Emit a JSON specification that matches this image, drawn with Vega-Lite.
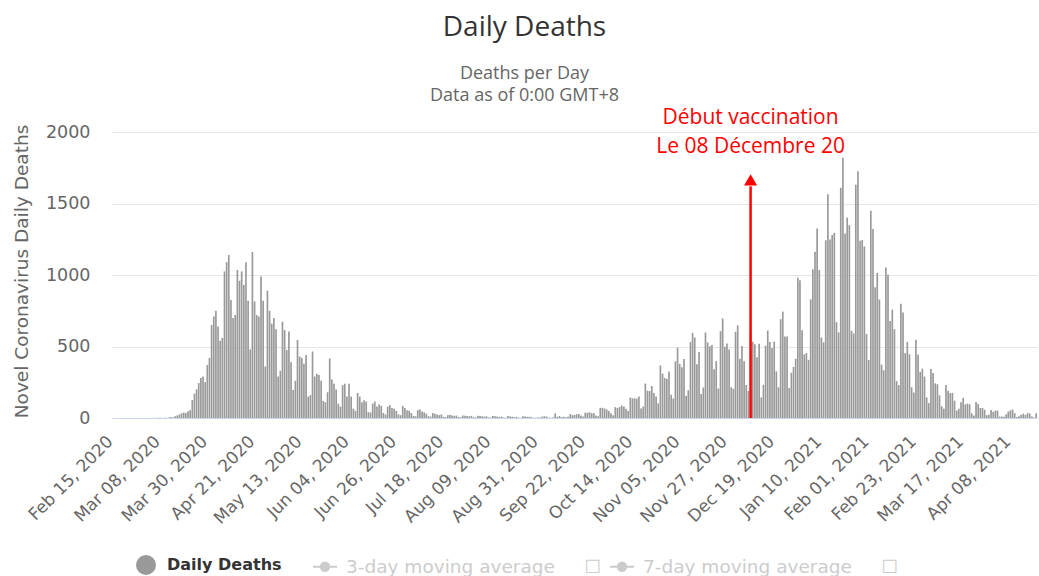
{
  "$schema": "https://vega.github.io/schema/vega-lite/v6.json",
  "width": 925,
  "height": 286,
  "autosize": {"type": "none"},
  "padding": {"left": 112, "top": 132, "right": 2, "bottom": 158},
  "background": "#ffffff",
  "config": {"view": {"stroke": null}, "font": "Open Sans"},
  "title": {
    "text": "Daily Deaths",
    "subtitle": ["Deaths per Day", "Data as of 0:00 GMT+8"],
    "anchor": "middle",
    "dx": -50,
    "offset": 2,
    "font": "Open Sans",
    "fontSize": 28,
    "fontWeight": "normal",
    "color": "#333333",
    "subtitleFont": "Open Sans",
    "subtitleFontSize": 18,
    "subtitleColor": "#666666",
    "subtitleLineHeight": 22,
    "subtitlePadding": 23
  },
  "datasets": {
    "note": [{"d": "2020-12-08", "line1": "Début vaccination", "line2": "Le 08 Décembre 20"}],
    "deaths": [
{"d":"2020-02-15","v":0},{"d":"2020-02-16","v":0},{"d":"2020-02-17","v":0},{"d":"2020-02-18","v":0},{"d":"2020-02-19","v":0},{"d":"2020-02-20","v":0},{"d":"2020-02-21","v":0},{"d":"2020-02-22","v":0},{"d":"2020-02-23","v":0},{"d":"2020-02-24","v":0},{"d":"2020-02-25","v":0},{"d":"2020-02-26","v":0},{"d":"2020-02-27","v":0},{"d":"2020-02-28","v":0},{"d":"2020-02-29","v":0},
{"d":"2020-03-01","v":0},{"d":"2020-03-02","v":0},{"d":"2020-03-03","v":0},{"d":"2020-03-04","v":0},{"d":"2020-03-05","v":1},{"d":"2020-03-06","v":0},{"d":"2020-03-07","v":1},{"d":"2020-03-08","v":1},{"d":"2020-03-09","v":0},{"d":"2020-03-10","v":2},{"d":"2020-03-11","v":1},{"d":"2020-03-12","v":3},{"d":"2020-03-13","v":7},{"d":"2020-03-14","v":4},{"d":"2020-03-15","v":12},{"d":"2020-03-16","v":18},{"d":"2020-03-17","v":25},{"d":"2020-03-18","v":33},{"d":"2020-03-19","v":38},{"d":"2020-03-20","v":35},{"d":"2020-03-21","v":48},{"d":"2020-03-22","v":55},{"d":"2020-03-23","v":126},{"d":"2020-03-24","v":170},{"d":"2020-03-25","v":200},{"d":"2020-03-26","v":245},{"d":"2020-03-27","v":280},{"d":"2020-03-28","v":290},{"d":"2020-03-29","v":250},{"d":"2020-03-30","v":370},{"d":"2020-03-31","v":420},
{"d":"2020-04-01","v":650},{"d":"2020-04-02","v":710},{"d":"2020-04-03","v":750},{"d":"2020-04-04","v":640},{"d":"2020-04-05","v":540},{"d":"2020-04-06","v":560},{"d":"2020-04-07","v":1025},{"d":"2020-04-08","v":1090},{"d":"2020-04-09","v":1140},{"d":"2020-04-10","v":825},{"d":"2020-04-11","v":700},{"d":"2020-04-12","v":720},{"d":"2020-04-13","v":1035},{"d":"2020-04-14","v":960},{"d":"2020-04-15","v":1025},{"d":"2020-04-16","v":930},{"d":"2020-04-17","v":1090},{"d":"2020-04-18","v":820},{"d":"2020-04-19","v":480},{"d":"2020-04-20","v":1160},{"d":"2020-04-21","v":815},{"d":"2020-04-22","v":720},{"d":"2020-04-23","v":710},{"d":"2020-04-24","v":990},{"d":"2020-04-25","v":820},{"d":"2020-04-26","v":360},{"d":"2020-04-27","v":890},{"d":"2020-04-28","v":750},{"d":"2020-04-29","v":660},{"d":"2020-04-30","v":700},
{"d":"2020-05-01","v":620},{"d":"2020-05-02","v":290},{"d":"2020-05-03","v":330},{"d":"2020-05-04","v":673},{"d":"2020-05-05","v":615},{"d":"2020-05-06","v":475},{"d":"2020-05-07","v":605},{"d":"2020-05-08","v":390},{"d":"2020-05-09","v":196},{"d":"2020-05-10","v":260},{"d":"2020-05-11","v":545},{"d":"2020-05-12","v":430},{"d":"2020-05-13","v":420},{"d":"2020-05-14","v":380},{"d":"2020-05-15","v":440},{"d":"2020-05-16","v":150},{"d":"2020-05-17","v":160},{"d":"2020-05-18","v":465},{"d":"2020-05-19","v":290},{"d":"2020-05-20","v":310},{"d":"2020-05-21","v":300},{"d":"2020-05-22","v":260},{"d":"2020-05-23","v":120},{"d":"2020-05-24","v":110},{"d":"2020-05-25","v":180},{"d":"2020-05-26","v":417},{"d":"2020-05-27","v":270},{"d":"2020-05-28","v":240},{"d":"2020-05-29","v":200},{"d":"2020-05-30","v":100},{"d":"2020-05-31","v":80},
{"d":"2020-06-01","v":230},{"d":"2020-06-02","v":240},{"d":"2020-06-03","v":150},{"d":"2020-06-04","v":240},{"d":"2020-06-05","v":150},{"d":"2020-06-06","v":65},{"d":"2020-06-07","v":50},{"d":"2020-06-08","v":175},{"d":"2020-06-09","v":150},{"d":"2020-06-10","v":110},{"d":"2020-06-11","v":125},{"d":"2020-06-12","v":115},{"d":"2020-06-13","v":40},{"d":"2020-06-14","v":38},{"d":"2020-06-15","v":100},{"d":"2020-06-16","v":115},{"d":"2020-06-17","v":80},{"d":"2020-06-18","v":95},{"d":"2020-06-19","v":85},{"d":"2020-06-20","v":35},{"d":"2020-06-21","v":25},{"d":"2020-06-22","v":80},{"d":"2020-06-23","v":90},{"d":"2020-06-24","v":70},{"d":"2020-06-25","v":65},{"d":"2020-06-26","v":50},{"d":"2020-06-27","v":25},{"d":"2020-06-28","v":20},{"d":"2020-06-29","v":85},{"d":"2020-06-30","v":70},
{"d":"2020-07-01","v":55},{"d":"2020-07-02","v":50},{"d":"2020-07-03","v":35},{"d":"2020-07-04","v":15},{"d":"2020-07-05","v":12},{"d":"2020-07-06","v":55},{"d":"2020-07-07","v":60},{"d":"2020-07-08","v":45},{"d":"2020-07-09","v":40},{"d":"2020-07-10","v":30},{"d":"2020-07-11","v":12},{"d":"2020-07-12","v":10},{"d":"2020-07-13","v":35},{"d":"2020-07-14","v":30},{"d":"2020-07-15","v":25},{"d":"2020-07-16","v":20},{"d":"2020-07-17","v":25},{"d":"2020-07-18","v":8},{"d":"2020-07-19","v":6},{"d":"2020-07-20","v":20},{"d":"2020-07-21","v":22},{"d":"2020-07-22","v":18},{"d":"2020-07-23","v":15},{"d":"2020-07-24","v":17},{"d":"2020-07-25","v":7},{"d":"2020-07-26","v":5},{"d":"2020-07-27","v":18},{"d":"2020-07-28","v":16},{"d":"2020-07-29","v":14},{"d":"2020-07-30","v":12},{"d":"2020-07-31","v":15},
{"d":"2020-08-01","v":6},{"d":"2020-08-02","v":4},{"d":"2020-08-03","v":16},{"d":"2020-08-04","v":14},{"d":"2020-08-05","v":12},{"d":"2020-08-06","v":10},{"d":"2020-08-07","v":12},{"d":"2020-08-08","v":4},{"d":"2020-08-09","v":3},{"d":"2020-08-10","v":14},{"d":"2020-08-11","v":12},{"d":"2020-08-12","v":10},{"d":"2020-08-13","v":8},{"d":"2020-08-14","v":10},{"d":"2020-08-15","v":3},{"d":"2020-08-16","v":2},{"d":"2020-08-17","v":14},{"d":"2020-08-18","v":11},{"d":"2020-08-19","v":9},{"d":"2020-08-20","v":6},{"d":"2020-08-21","v":8},{"d":"2020-08-22","v":2},{"d":"2020-08-23","v":1},{"d":"2020-08-24","v":12},{"d":"2020-08-25","v":10},{"d":"2020-08-26","v":8},{"d":"2020-08-27","v":9},{"d":"2020-08-28","v":6},{"d":"2020-08-29","v":2},{"d":"2020-08-30","v":1},{"d":"2020-08-31","v":3},
{"d":"2020-09-01","v":3},{"d":"2020-09-02","v":10},{"d":"2020-09-03","v":12},{"d":"2020-09-04","v":10},{"d":"2020-09-05","v":2},{"d":"2020-09-06","v":2},{"d":"2020-09-07","v":3},{"d":"2020-09-08","v":32},{"d":"2020-09-09","v":8},{"d":"2020-09-10","v":14},{"d":"2020-09-11","v":6},{"d":"2020-09-12","v":9},{"d":"2020-09-13","v":5},{"d":"2020-09-14","v":9},{"d":"2020-09-15","v":27},{"d":"2020-09-16","v":20},{"d":"2020-09-17","v":21},{"d":"2020-09-18","v":27},{"d":"2020-09-19","v":27},{"d":"2020-09-20","v":18},{"d":"2020-09-21","v":11},{"d":"2020-09-22","v":37},{"d":"2020-09-23","v":37},{"d":"2020-09-24","v":40},{"d":"2020-09-25","v":34},{"d":"2020-09-26","v":34},{"d":"2020-09-27","v":17},{"d":"2020-09-28","v":13},{"d":"2020-09-29","v":71},{"d":"2020-09-30","v":71},
{"d":"2020-10-01","v":66},{"d":"2020-10-02","v":59},{"d":"2020-10-03","v":49},{"d":"2020-10-04","v":33},{"d":"2020-10-05","v":19},{"d":"2020-10-06","v":76},{"d":"2020-10-07","v":70},{"d":"2020-10-08","v":77},{"d":"2020-10-09","v":87},{"d":"2020-10-10","v":81},{"d":"2020-10-11","v":65},{"d":"2020-10-12","v":50},{"d":"2020-10-13","v":143},{"d":"2020-10-14","v":137},{"d":"2020-10-15","v":138},{"d":"2020-10-16","v":136},{"d":"2020-10-17","v":150},{"d":"2020-10-18","v":67},{"d":"2020-10-19","v":80},{"d":"2020-10-20","v":241},{"d":"2020-10-21","v":191},{"d":"2020-10-22","v":189},{"d":"2020-10-23","v":224},{"d":"2020-10-24","v":174},{"d":"2020-10-25","v":151},{"d":"2020-10-26","v":102},{"d":"2020-10-27","v":367},{"d":"2020-10-28","v":310},{"d":"2020-10-29","v":280},{"d":"2020-10-30","v":274},{"d":"2020-10-31","v":326},
{"d":"2020-11-01","v":162},{"d":"2020-11-02","v":136},{"d":"2020-11-03","v":397},{"d":"2020-11-04","v":492},{"d":"2020-11-05","v":378},{"d":"2020-11-06","v":355},{"d":"2020-11-07","v":413},{"d":"2020-11-08","v":156},{"d":"2020-11-09","v":194},{"d":"2020-11-10","v":532},{"d":"2020-11-11","v":595},{"d":"2020-11-12","v":563},{"d":"2020-11-13","v":376},{"d":"2020-11-14","v":462},{"d":"2020-11-15","v":168},{"d":"2020-11-16","v":213},{"d":"2020-11-17","v":598},{"d":"2020-11-18","v":529},{"d":"2020-11-19","v":501},{"d":"2020-11-20","v":511},{"d":"2020-11-21","v":341},{"d":"2020-11-22","v":398},{"d":"2020-11-23","v":206},{"d":"2020-11-24","v":608},{"d":"2020-11-25","v":696},{"d":"2020-11-26","v":498},{"d":"2020-11-27","v":521},{"d":"2020-11-28","v":479},{"d":"2020-11-29","v":215},{"d":"2020-11-30","v":205},
{"d":"2020-12-01","v":603},{"d":"2020-12-02","v":648},{"d":"2020-12-03","v":414},{"d":"2020-12-04","v":504},{"d":"2020-12-05","v":397},{"d":"2020-12-06","v":231},{"d":"2020-12-07","v":189},{"d":"2020-12-08","v":616},{"d":"2020-12-09","v":533},{"d":"2020-12-10","v":516},{"d":"2020-12-11","v":424},{"d":"2020-12-12","v":519},{"d":"2020-12-13","v":144},{"d":"2020-12-14","v":232},{"d":"2020-12-15","v":506},{"d":"2020-12-16","v":612},{"d":"2020-12-17","v":532},{"d":"2020-12-18","v":489},{"d":"2020-12-19","v":534},{"d":"2020-12-20","v":326},{"d":"2020-12-21","v":215},{"d":"2020-12-22","v":691},{"d":"2020-12-23","v":744},{"d":"2020-12-24","v":570},{"d":"2020-12-25","v":570},{"d":"2020-12-26","v":210},{"d":"2020-12-27","v":316},{"d":"2020-12-28","v":357},{"d":"2020-12-29","v":414},{"d":"2020-12-30","v":981},{"d":"2020-12-31","v":964},
{"d":"2021-01-01","v":613},{"d":"2021-01-02","v":445},{"d":"2021-01-03","v":454},{"d":"2021-01-04","v":407},{"d":"2021-01-05","v":830},{"d":"2021-01-06","v":1041},{"d":"2021-01-07","v":1162},{"d":"2021-01-08","v":1325},{"d":"2021-01-09","v":1035},{"d":"2021-01-10","v":563},{"d":"2021-01-11","v":529},{"d":"2021-01-12","v":1243},{"d":"2021-01-13","v":1564},{"d":"2021-01-14","v":1248},{"d":"2021-01-15","v":1280},{"d":"2021-01-16","v":1295},{"d":"2021-01-17","v":671},{"d":"2021-01-18","v":599},{"d":"2021-01-19","v":1610},{"d":"2021-01-20","v":1820},{"d":"2021-01-21","v":1290},{"d":"2021-01-22","v":1401},{"d":"2021-01-23","v":1348},{"d":"2021-01-24","v":610},{"d":"2021-01-25","v":592},{"d":"2021-01-26","v":1631},{"d":"2021-01-27","v":1725},{"d":"2021-01-28","v":1239},{"d":"2021-01-29","v":1245},{"d":"2021-01-30","v":1200},{"d":"2021-01-31","v":587},
{"d":"2021-02-01","v":406},{"d":"2021-02-02","v":1449},{"d":"2021-02-03","v":1322},{"d":"2021-02-04","v":915},{"d":"2021-02-05","v":1014},{"d":"2021-02-06","v":828},{"d":"2021-02-07","v":373},{"d":"2021-02-08","v":333},{"d":"2021-02-09","v":1052},{"d":"2021-02-10","v":1001},{"d":"2021-02-11","v":678},{"d":"2021-02-12","v":758},{"d":"2021-02-13","v":621},{"d":"2021-02-14","v":258},{"d":"2021-02-15","v":230},{"d":"2021-02-16","v":799},{"d":"2021-02-17","v":738},{"d":"2021-02-18","v":454},{"d":"2021-02-19","v":533},{"d":"2021-02-20","v":445},{"d":"2021-02-21","v":215},{"d":"2021-02-22","v":178},{"d":"2021-02-23","v":548},{"d":"2021-02-24","v":442},{"d":"2021-02-25","v":323},{"d":"2021-02-26","v":345},{"d":"2021-02-27","v":290},{"d":"2021-02-28","v":144},
{"d":"2021-03-01","v":104},{"d":"2021-03-02","v":343},{"d":"2021-03-03","v":315},{"d":"2021-03-04","v":242},{"d":"2021-03-05","v":236},{"d":"2021-03-06","v":158},{"d":"2021-03-07","v":82},{"d":"2021-03-08","v":65},{"d":"2021-03-09","v":231},{"d":"2021-03-10","v":190},{"d":"2021-03-11","v":175},{"d":"2021-03-12","v":175},{"d":"2021-03-13","v":121},{"d":"2021-03-14","v":52},{"d":"2021-03-15","v":64},{"d":"2021-03-16","v":110},{"d":"2021-03-17","v":141},{"d":"2021-03-18","v":95},{"d":"2021-03-19","v":101},{"d":"2021-03-20","v":96},{"d":"2021-03-21","v":33},{"d":"2021-03-22","v":17},{"d":"2021-03-23","v":112},{"d":"2021-03-24","v":98},{"d":"2021-03-25","v":70},{"d":"2021-03-26","v":70},{"d":"2021-03-27","v":58},{"d":"2021-03-28","v":19},{"d":"2021-03-29","v":23},{"d":"2021-03-30","v":56},{"d":"2021-03-31","v":43},
{"d":"2021-04-01","v":52},{"d":"2021-04-02","v":51},{"d":"2021-04-03","v":10},{"d":"2021-04-04","v":10},{"d":"2021-04-05","v":9},{"d":"2021-04-06","v":26},{"d":"2021-04-07","v":45},{"d":"2021-04-08","v":53},{"d":"2021-04-09","v":60},{"d":"2021-04-10","v":34},{"d":"2021-04-11","v":7},{"d":"2021-04-12","v":13},{"d":"2021-04-13","v":23},{"d":"2021-04-14","v":30},{"d":"2021-04-15","v":22},{"d":"2021-04-16","v":34},{"d":"2021-04-17","v":32},{"d":"2021-04-18","v":10},{"d":"2021-04-19","v":4},{"d":"2021-04-20","v":33}
    ]
  },
  "layer": [
    {
      "data": {"name": "deaths"},
      "mark": {"type": "bar"},
      "encoding": {
        "x": {
          "field": "d",
          "type": "ordinal",
          "sort": null,
          "scale": {"paddingInner": 0.22, "paddingOuter": 0},
          "axis": {
            "title": null,
            "values": ["2020-02-15","2020-03-08","2020-03-30","2020-04-21","2020-05-13","2020-06-04","2020-06-26","2020-07-18","2020-08-09","2020-08-31","2020-09-22","2020-10-14","2020-11-05","2020-11-27","2020-12-19","2021-01-10","2021-02-01","2021-02-23","2021-03-17","2021-04-08"],
            "labelExpr": "utcFormat(toDate(datum.value), '%b %d, %Y')",
            "labelAngle": -45,
            "labelFont": "DejaVu Sans",
            "labelFontSize": 17,
            "labelColor": "#666666",
            "labelPadding": 15,
            "labelOffset": -8,
            "labelOverlap": false,
            "labelBound": false,
            "ticks": false,
            "tickSize": 0,
            "grid": false,
            "domainColor": "#ccd6eb",
            "domainWidth": 1
          }
        },
        "y": {
          "field": "v",
          "type": "quantitative",
          "scale": {"domain": [0, 2000], "nice": false},
          "axis": {
            "values": [0, 500, 1000, 1500, 2000],
            "format": "d",
            "title": "Novel Coronavirus Daily Deaths",
            "titleFont": "DejaVu Sans",
            "titleFontSize": 18.5,
            "titleFontWeight": "normal",
            "titleColor": "#666666",
            "titleAngle": -90,
            "titleX": -91,
            "titleY": 139,
            "titleAlign": "center",
            "titleBaseline": "middle",
            "labelFont": "DejaVu Sans",
            "labelFontSize": 17.5,
            "labelColor": "#666666",
            "labelPadding": 22,
            "ticks": false,
            "tickSize": 0,
            "domain": false,
            "grid": true,
            "gridColor": "#e6e6e6",
            "gridWidth": 1
          }
        },
        "color": {
          "datum": "Daily Deaths",
          "type": "nominal",
          "scale": {
            "domain": ["Daily Deaths", "3-day moving average", "7-day moving average"],
            "range": ["#999999", "#cccccc", "#cccccc"]
          },
          "legend": {
            "title": null,
            "orient": "none",
            "legendX": 21,
            "legendY": 420,
            "direction": "horizontal",
            "padding": 0,
            "symbolType": "circle",
            "symbolSize": 576,
            "labelFont": "DejaVu Sans",
            "labelFontSize": 16,
            "labelColor": "#333333",
            "labelOffset": 8,
            "columnPadding": 5,
            "labelLimit": 400,
            "labelExpr": "datum.value == 'Daily Deaths' ? datum.label + '\u00a0\u00a0\u00a0\u00a0\u200b' : datum.label + '\u00a0\u00a0\u00a0\u00a0\u00a0\u2610'",
            "encode": {
              "labels": {
                "update": {
                  "fill": {"signal": "datum.value == 'Daily Deaths' ? '#333333' : '#cccccc'"},
                  "fontWeight": {"signal": "datum.value == 'Daily Deaths' ? 'bold' : 'normal'"},
                  "fontSize": {"signal": "datum.value == 'Daily Deaths' ? 16 : 18.5"}
                }
              },
              "symbols": {
                "update": {
                  "shape": {"signal": "datum.value == 'Daily Deaths' ? 'circle' : 'M-1,0L1,0M-0.35,0A0.35,0.35,0,1,1,0.35,0A0.35,0.35,0,1,1,-0.35,0'"},
                  "size": {"signal": "datum.value == 'Daily Deaths' ? 324 : 576"},
                  "fill": {"signal": "datum.value == 'Daily Deaths' ? '#999999' : '#cccccc'"},
                  "stroke": {"signal": "datum.value == 'Daily Deaths' ? '#999999' : '#cccccc'"},
                  "strokeWidth": {"value": 2},
                  "opacity": {"value": 1}
                }
              }
            }
          }
        }
      }
    },
    {
      "data": {"name": "note"},
      "mark": {"type": "rule", "color": "#ff0000", "strokeWidth": 2.5},
      "encoding": {
        "x": {"field": "d", "type": "ordinal"},
        "y": {"datum": 0, "type": "quantitative"},
        "y2": {"datum": 1620}
      }
    },
    {
      "data": {"name": "note"},
      "mark": {"type": "point", "shape": "triangle-up", "filled": true, "color": "#ff0000", "opacity": 1, "size": 170},
      "encoding": {
        "x": {"field": "d", "type": "ordinal"},
        "y": {"datum": 1665, "type": "quantitative"}
      }
    },
    {
      "data": {"name": "note"},
      "mark": {"type": "text", "color": "#ff0000", "font": "Open Sans", "fontSize": 21, "align": "center", "baseline": "alphabetic"},
      "encoding": {
        "x": {"field": "d", "type": "ordinal"},
        "y": {"datum": 2058, "type": "quantitative"},
        "text": {"field": "line1"}
      }
    },
    {
      "data": {"name": "note"},
      "mark": {"type": "text", "color": "#ff0000", "font": "Open Sans", "fontSize": 21, "align": "center", "baseline": "alphabetic"},
      "encoding": {
        "x": {"field": "d", "type": "ordinal"},
        "y": {"datum": 1855, "type": "quantitative"},
        "text": {"field": "line2"}
      }
    }
  ]
}
